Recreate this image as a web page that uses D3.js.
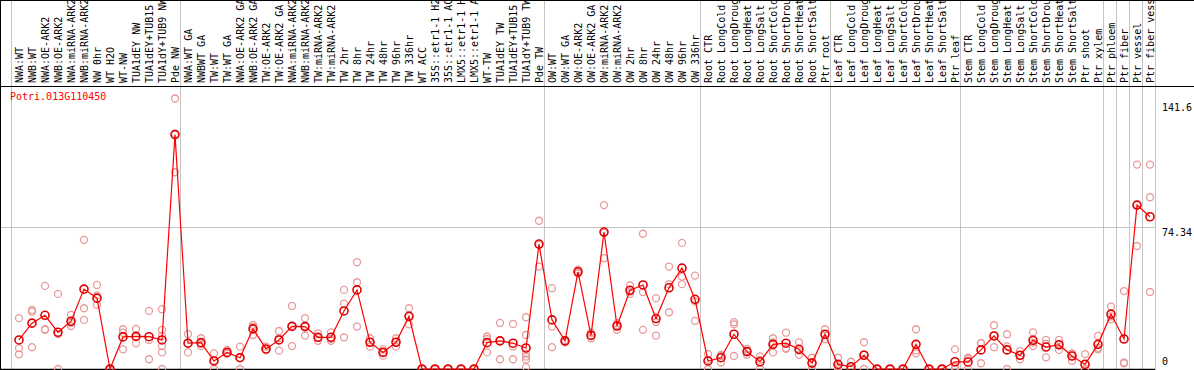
<!DOCTYPE html>
<html>
<head>
<meta charset="utf-8">
<script src="https://cdn.jsdelivr.net/npm/d3@7"></script>
<style>
  body { margin: 0; background: #fff; }
  svg { display: block; }
  text { font-family: "DejaVu Sans Mono", monospace; font-size: 10px; }
</style>
</head>
<body>
<div id="chart"></div>
<script>
const gene = "Potri.013G110450";

const categories = [
  "NWA:WT", "NWB:WT", "NWA:OE-ARK2", "NWB:OE-ARK2", "NWA:miRNA-ARK2", "NWB:miRNA-ARK2",
  "NW 0hr", "WT H2O", "WT-NW", "TUA1dEY NW", "TUA1dEY+TUB15 NW", "TUA1dY+TUB9 NW", "Pde NW",
  "NWA:WT GA", "NWBWT GA", "TW:WT", "TW:WT GA", "NWA:OE-ARK2 GA", "NWB:OE-ARK2 GA",
  "TW:OE-ARK2", "TW:OE-ARK2 GA", "NWA:miRNA-ARK2", "NWB:miRNA-ARK2", "TW:miRNA-ARK2",
  "TW:miRNA-ARK2", "TW 2hr", "TW 8hr", "TW 24hr", "TW 48hr", "TW 96hr", "TW 336hr",
  "WT ACC", "35S::etr1-1 H2O", "35S::etr1-1 ACC", "LMX5::etr1-1 H2O", "LMX5::etr1-1 ACC",
  "WT-TW", "TUA1dEY TW", "TUA1dEY+TUB15 TW", "TUA1dY+TUB9 TW", "Pde TW",
  "OW:WT", "OW:WT GA", "OW:OE-ARK2", "OW:OE-ARK2 GA", "OW:miRNA-ARK2", "OW:miRNA-ARK2",
  "OW 2hr", "OW 8hr", "OW 24hr", "OW 48hr", "OW 96hr", "OW 336hr",
  "Root CTR", "Root LongCold", "Root LongDrought", "Root LongHeat", "Root LongSalt",
  "Root ShortCold", "Root ShortDrought", "Root ShortHeat", "Root ShortSalt", "Ptr root",
  "Leaf CTR", "Leaf LongCold", "Leaf LongDrought", "Leaf LongHeat", "Leaf LongSalt",
  "Leaf ShortCold", "Leaf ShortDrought", "Leaf ShortHeat", "Leaf ShortSalt", "Ptr leaf",
  "Stem CTR", "Stem LongCold", "Stem LongDrought", "Stem LongHeat", "Stem LongSalt",
  "Stem ShortCold", "Stem ShortDrought", "Stem ShortHeat", "Stem ShortSalt", "Ptr shoot",
  "Ptr xylem", "Ptr phloem", "Ptr fiber", "Ptr vessel", "Ptr fiber vessel"
];

// mean expression per sample
const means = [
  15.2, 24.0, 28.1, 19.2, 25.0, 41.8, 37.1, 0, 16.8, 17.1, 16.9, 15.2, 122.7,
  13.5, 13.8, 4.2, 8.7, 5.9, 21.0, 10.5, 15.2, 22.3, 22.2, 16.6, 16.6, 30.4,
  41.4, 14.0, 8.7, 14.0, 27.6, 0, 0, 0, 0, 0, 13.8, 14.7, 13.5, 11.0, 65.4,
  25.7, 14.7, 50.9, 17.6, 71.7, 22.5, 41.2, 44.0, 26.4, 42.5, 52.8, 36.5,
  4.2, 5.9, 18.2, 9.1, 3.8, 12.9, 13.5, 10.3, 3.1, 18.2,
  2.4, 1.2, 7.2, 0, 0, 0, 12.9, 0, 0, 3.8,
  3.7, 10.0, 17.3, 10.0, 7.2, 15.0, 11.5, 12.7, 6.8, 2.4,
  12.9, 28.7, 15.7, 85.8, 79.7
];

// individual replicates per sample
const replicates = [
  [26.6, 10.9, 7.7], [30.9, 30.0, 11.4], [43.5, 20.8, 20.5], [39.3, 0, 18.3],
  [28.3, 22.5, 24.2], [67.6, 31.8, 25.7], [44.0, 38.4, 33.6], [0, 0, 0],
  [20.8, 19.0, 10.3], [21.0, 13.5, 16.8], [30.4, 15.2, 5.1],
  [31.3, 20.5, 17.5, 12.0, 8.7, 0], [141.6, 103.0, 123.2],
  [18.3, 8.7, 13.5], [16.1, 12.0, 13.3], [8.2, 0, 4.4], [10.0, 8.2, 7.9],
  [11.7, 0, 6.0], [23.1, 17.8, 22.1], [11.7, 10.0, 9.8], [19.9, 9.6, 16.1],
  [33.0, 12.0, 22.5], [26.6, 17.5, 22.5], [18.7, 14.8, 16.3], [19.2, 14.8, 15.8],
  [41.4, 34.2, 16.6], [55.9, 45.4, 22.2], [16.1, 11.7, 14.2], [10.3, 7.0, 8.8],
  [16.1, 11.7, 14.2], [31.8, 23.4, 27.6],
  [0, 0, 0], [0, 0, 0], [0, 0, 0], [0, 0, 0], [0, 0, 0],
  [17.0, 8.7, 15.7], [24.1, 5.1, 14.9], [23.6, 5.1, 11.8],
  [27.1, 17.8, 8.0, 6.5, 5.0, 1.0], [77.6, 53.6, 65.0],
  [42.3, 22.2, 11.4], [15.2, 14.0, 14.9], [52.0, 50.0, 50.7], [19.0, 16.1, 17.7],
  [85.8, 58.0, 71.3], [24.0, 20.5, 23.0], [43.7, 39.3, 40.6], [70.8, 40.3, 20.5],
  [37.1, 17.5, 24.6], [53.6, 44.4, 29.7], [66.0, 48.4, 44.4], [48.9, 25.2, 35.4],
  [7.8, 0, 4.8], [7.4, 3.4, 6.9], [24.5, 23.4, 6.8], [10.5, 7.4, 9.4], [6.6, 0, 4.8],
  [16.1, 8.7, 13.9], [19.0, 10.9, 10.6], [13.9, 7.4, 9.6], [5.9, 0, 3.4], [20.8, 15.6, 18.2],
  [5.9, 0, 1.3], [3.8, 0, 0], [14.0, 0, 7.6], [0, 0, 0], [0, 0, 0],
  [0, 0, 0], [20.8, 8.2, 9.7], [0, 0, 0], [0, 0, 0], [10.3, 0, 1.1],
  [5.9, 0, 5.2], [13.5, 3.0, 13.5], [22.9, 11.4, 17.6], [18.2, 0, 11.8], [9.4, 5.1, 7.1],
  [19.2, 12.0, 13.8], [15.2, 6.1, 13.2], [15.2, 10.0, 12.9], [8.2, 4.3, 7.9], [7.8, 0, 0],
  [17.3, 10.3, 11.1], [32.6, 26.0, 27.5], [40.8, 3.4, 3.0], [107.0, 64.4, 86.0],
  [107.0, 89.9, 40.3]
];

// first sample of each experiment block (last entry closes the chart)
const groupStarts = [0, 13, 41, 53, 63, 73, 84, 85, 86, 87, 88];
const yTicks = [0, 74.34, 141.6];

const width = 1194, height = 370;
const headerH = 86;

const svg = d3.select("#chart")
  .append("svg")
  .attr("width", width)
  .attr("height", height);

const x = d3.scaleLinear().domain([0, categories.length - 1]).range([19, 1150]);
const y = d3.scaleLinear().domain([0, d3.max(yTicks)]).range([369, 98.5]);
const plotRight = x(categories.length) - 8;

// gray grid
svg.append("g")
  .selectAll("line")
  .data(groupStarts)
  .join("line")
  .attr("x1", (d) => x(d) - 8 + 0.5)
  .attr("x2", (d) => x(d) - 8 + 0.5)
  .attr("y1", 0)
  .attr("y2", height)
  .attr("stroke", "#c4c4c4")
  .attr("stroke-width", 1);

svg.append("line")
  .attr("x1", 0)
  .attr("x2", plotRight)
  .attr("y1", Math.round(y(74.34)) + 0.5)
  .attr("y2", Math.round(y(74.34)) + 0.5)
  .attr("stroke", "#c4c4c4");

// frame
svg.append("line").attr("x1", 0).attr("x2", width).attr("y1", 0.5).attr("y2", 0.5).attr("stroke", "#000");
svg.append("line").attr("x1", 0).attr("x2", width).attr("y1", headerH + 0.5).attr("y2", headerH + 0.5).attr("stroke", "#000");
svg.append("line").attr("x1", 0.5).attr("x2", 0.5).attr("y1", 0).attr("y2", height).attr("stroke", "#000");
svg.append("line").attr("x1", 0).attr("x2", plotRight).attr("y1", 369.5).attr("y2", 369.5).attr("stroke", "#000").attr("stroke-width", 1.5);

// sample labels
svg.append("g")
  .selectAll("text")
  .data(categories)
  .join("text")
  .attr("transform", (d, i) => `translate(${x(i) + 3.5},${headerH - 3}) rotate(-90)`)
  .attr("fill", "#000")
  .text((d) => d);

// right-hand value labels
const tickDy = { 0: -4, 74.34: 9.5, 141.6: 12 };
svg.append("g")
  .selectAll("text")
  .data(yTicks)
  .join("text")
  .attr("x", plotRight + 7)
  .attr("y", (d) => y(d) + tickDy[d])
  .attr("fill", "#000")
  .text((d) => d);

// replicate points
const repPoints = replicates.flatMap((r, i) => r.map((v) => ({ i, v })));
svg.append("g")
  .selectAll("circle")
  .data(repPoints)
  .join("circle")
  .attr("cx", (d) => x(d.i))
  .attr("cy", (d) => y(d.v))
  .attr("r", 3.5)
  .attr("fill", "none")
  .attr("stroke", "#e89a9a")
  .attr("stroke-width", 1.3);

// mean line
const line = d3.line()
  .x((d, i) => x(i))
  .y((d) => y(d));

svg.append("path")
  .datum(means)
  .attr("d", line)
  .attr("fill", "none")
  .attr("stroke", "#ff0000")
  .attr("stroke-width", 1.2);

svg.append("g")
  .selectAll("circle")
  .data(means)
  .join("circle")
  .attr("cx", (d, i) => x(i))
  .attr("cy", (d) => y(d))
  .attr("r", 4)
  .attr("fill", "none")
  .attr("stroke", "#e00000")
  .attr("stroke-width", 1.6);

// gene name
svg.append("text")
  .attr("x", 10)
  .attr("y", 100)
  .attr("fill", "#ff0000")
  .text(gene);
</script>
</body>
</html>
